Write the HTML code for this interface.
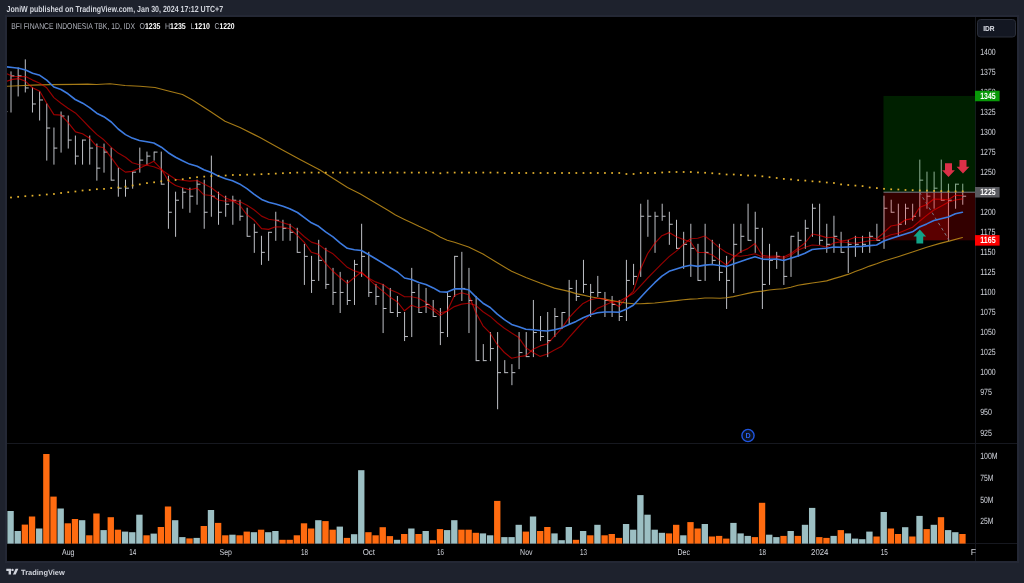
<!DOCTYPE html>
<html lang="en"><head><meta charset="utf-8"><title>BFI FINANCE INDONESIA TBK - TradingView</title>
<style>
html,body{margin:0;padding:0;background:#1e222d;}
body{width:1024px;height:583px;overflow:hidden;position:relative;font-family:"Liberation Sans",sans-serif;}
svg{position:absolute;left:0;top:0;display:block;will-change:transform}
text{font-family:"Liberation Sans",sans-serif;text-rendering:geometricPrecision}
.ax{fill:#d1d4dc}
.tm{font-size:8.6px;fill:#d1d4dc;text-anchor:middle}
</style></head><body>
<svg width="1024" height="583" viewBox="0 0 1024 583">
<rect x="0" y="0" width="1024" height="583" fill="#1e222d"/>
<rect x="6" y="16" width="1012" height="546" fill="#000" stroke="#242835" stroke-width="2"/>
<clipPath id="cp"><rect x="7" y="17" width="968.5" height="426.5"/></clipPath>
<clipPath id="cv"><rect x="7" y="443.5" width="968.5" height="100.29999999999995"/></clipPath>
<g stroke="#16181f" stroke-width="1" fill="none"><path d="M975.5 17V561M7 443.5H1017M7 543.5H1017"/></g>
<g clip-path="url(#cp)">
<path d="M6.4 111.6h1M11 71.4V112.5M11 75.91h3.4M18.16 67.39V96.46M18.16 75.91h3.4M25.31 59.37V92.45M25.31 87.94h3.4M32.47 87.44V112.5M32.47 103.98h3.4M39.62 91.45V120.52M39.62 99.97h3.4M46.78 103.48V160.62M46.78 128.04h3.4M53.94 127.54V164.63M53.94 148.09h3.4M61.09 111.5V152.6M61.09 116.01h3.4M68.25 115.51V148.59M68.25 140.07h3.4M75.4 135.56V164.63M75.4 156.11h3.4M82.56 139.57V164.63M82.56 140.07h3.4M89.72 135.56V164.63M89.72 148.09h3.4M96.87 143.58V180.67M96.87 168.14h3.4M104.03 143.58V172.65M104.03 152.1h3.4M111.18 147.59V180.67M111.18 180.17h3.4M118.34 167.64V196.71M118.34 188.19h3.4M125.5 179.67V196.71M125.5 188.19h3.4M132.65 171.65V188.69M132.65 172.15h3.4M139.81 147.59V172.65M139.81 160.12h3.4M146.96 151.6V164.63M146.96 156.11h3.4M154.12 151.6V160.62M154.12 152.1h3.4M161.28 151.6V184.68M161.28 184.18h3.4M168.43 175.66V228.79M168.43 212.25h3.4M175.59 191.7V236.81M175.59 200.22h3.4M182.74 187.69V208.74M182.74 192.2h3.4M189.9 187.69V212.75M189.9 196.21h3.4M197.06 179.67V204.73M197.06 184.18h3.4M204.21 179.67V228.79M204.21 212.25h3.4M211.37 155.61V216.76M211.37 196.21h3.4M218.52 191.7V224.78M218.52 212.25h3.4M225.68 195.71V216.76M225.68 204.23h3.4M232.84 195.71V224.78M232.84 200.22h3.4M239.99 199.72V220.77M239.99 216.26h3.4M247.15 207.74V236.81M247.15 236.31h3.4M254.3 223.78V252.85M254.3 232.3h3.4M261.46 235.81V264.88M261.46 252.35h3.4M268.62 231.8V260.87M268.62 232.3h3.4M275.77 211.75V240.82M275.77 220.27h3.4M282.93 219.77V240.82M282.93 228.29h3.4M290.08 223.78V240.82M290.08 232.3h3.4M297.24 227.79V252.85M297.24 252.35h3.4M304.4 243.83V284.93M304.4 256.36h3.4M311.55 255.86V292.95M311.55 280.42h3.4M318.71 239.82V280.92M318.71 260.37h3.4M325.86 247.84V288.94M325.86 284.43h3.4M333.02 267.89V304.98M333.02 292.45h3.4M340.18 271.9V313M340.18 292.45h3.4M347.33 279.92V304.98M347.33 300.47h3.4M354.49 259.87V304.98M354.49 264.38h3.4M361.64 223.78V276.91M361.64 256.36h3.4M368.8 251.85V296.96M368.8 292.45h3.4M375.96 283.93V304.98M375.96 296.46h3.4M383.11 283.93V333.05M383.11 308.49h3.4M390.27 287.94V313M390.27 312.5h3.4M397.42 295.96V317.01M397.42 312.5h3.4M404.58 312V341.07M404.58 336.56h3.4M411.74 267.89V337.06M411.74 292.45h3.4M418.89 283.93V313M418.89 312.5h3.4M426.05 287.94V313M426.05 304.48h3.4M433.2 299.97V317.01M433.2 316.51h3.4M440.36 307.99V345.08M440.36 332.55h3.4M447.52 291.95V337.06M447.52 296.46h3.4M454.67 255.86V296.96M454.67 256.36h3.4M461.83 251.85V300.97M461.83 288.44h3.4M468.98 267.89V333.05M468.98 300.47h3.4M476.14 295.96V361.12M476.14 360.62h3.4M483.3 344.08V361.12M483.3 360.62h3.4M490.45 332.05V361.12M490.45 348.59h3.4M497.61 332.05V409.24M497.61 372.65h3.4M504.76 360.12V373.15M504.76 372.65h3.4M511.92 364.13V385.18M511.92 372.65h3.4M519.08 332.05V369.14M519.08 352.6h3.4M526.23 332.05V357.11M526.23 356.61h3.4M533.39 299.97V357.11M533.39 332.55h3.4M540.54 316.01V341.07M540.54 336.56h3.4M547.7 312V357.11M547.7 340.57h3.4M554.86 307.99V337.06M554.86 316.51h3.4M562.01 312V329.04M562.01 312.5h3.4M569.17 279.92V325.03M569.17 288.44h3.4M576.32 279.92V300.97M576.32 296.46h3.4M583.48 259.87V292.95M583.48 284.43h3.4M590.64 283.93V317.01M590.64 292.45h3.4M597.79 275.91V296.96M597.79 292.45h3.4M604.95 291.95V317.01M604.95 300.47h3.4M612.1 295.96V317.01M612.1 304.48h3.4M619.26 299.97V321.02M619.26 316.51h3.4M626.42 259.87V321.02M626.42 280.42h3.4M633.57 263.88V284.93M633.57 276.41h3.4M640.73 203.73V276.91M640.73 216.26h3.4M647.88 199.72V236.81M647.88 216.26h3.4M655.04 211.75V252.85M655.04 216.26h3.4M662.2 203.73V220.77M662.2 216.26h3.4M669.35 211.75V244.83M669.35 224.28h3.4M676.51 219.77V248.84M676.51 248.34h3.4M683.66 231.8V268.89M683.66 244.33h3.4M690.82 223.78V276.91M690.82 248.34h3.4M697.98 243.83V280.92M697.98 280.42h3.4M705.13 223.78V280.92M705.13 252.35h3.4M712.29 239.82V264.88M712.29 260.37h3.4M719.44 243.83V280.92M719.44 272.4h3.4M726.6 255.86V308.99M726.6 280.42h3.4M733.76 223.78V292.95M733.76 244.33h3.4M740.91 223.78V252.85M740.91 236.31h3.4M748.07 203.73V240.82M748.07 240.32h3.4M755.22 211.75V252.85M755.22 228.29h3.4M762.38 227.79V308.99M762.38 284.43h3.4M769.54 243.83V284.93M769.54 260.37h3.4M776.69 251.85V268.89M776.69 256.36h3.4M783.85 255.86V284.93M783.85 276.41h3.4M791 235.81V276.91M791 236.31h3.4M798.16 231.8V256.86M798.16 240.32h3.4M805.32 219.77V248.84M805.32 228.29h3.4M812.47 203.73V236.81M812.47 208.24h3.4M819.63 203.73V244.83M819.63 240.32h3.4M826.78 223.78V252.85M826.78 244.33h3.4M833.94 215.76V252.85M833.94 236.31h3.4M841.1 231.8V252.85M841.1 252.35h3.4M848.25 239.82V272.9M848.25 244.33h3.4M855.41 235.81V256.86M855.41 244.33h3.4M862.56 235.81V252.85M862.56 244.33h3.4M869.72 231.8V252.85M869.72 236.31h3.4M876.88 223.78V240.82M876.88 240.32h3.4M884.03 195.71V248.84M884.03 208.24h3.4M891.19 199.72V212.75M891.19 212.25h3.4M898.34 203.73V236.81M898.34 224.28h3.4M905.5 203.73V224.78M905.5 208.24h3.4M912.66 203.73V220.77M912.66 216.26h3.4M919.81 159.62V216.76M919.81 180.17h3.4M926.97 171.65V208.74M926.97 196.21h3.4M934.12 171.65V208.74M934.12 188.19h3.4M941.28 159.62V200.72M941.28 200.22h3.4M948.44 183.68V240.82M948.44 200.22h3.4M955.59 183.68V208.74M955.59 184.18h3.4M962.75 183.68V204.73M962.75 196.21h3.4" stroke="#bec0c6" stroke-width="1" fill="none"/>
<rect x="883.5" y="95.96" width="92" height="96.24" fill="#008000" fill-opacity="0.25"/>
<rect x="883.5" y="192.2" width="92" height="48.12" fill="#ff0000" fill-opacity="0.2"/>
<rect x="919.5" y="192.2" width="29.7" height="48.12" fill="#ff0000" fill-opacity="0.2"/>
<path d="M883.5 192.2H975.5" stroke="#787b86" stroke-width="1"/>
<path d="M919.5 192.2L949.2 240.32" stroke="#787b86" stroke-width="1" stroke-dasharray="3 3" fill="none"/>
<polyline points="6.9,86.3 18.8,85.7 32.6,85.1 50,84.6 75,84.4 87.7,84.1 96.5,84.5 110,83.8 125,85.5 140,86.25 155,87.5 167.5,90.75 182.5,94.5 192.5,100 210,111.25 225,121.25 240,127.5 260,137.5 282.5,150 300,159.5 320,170 347.5,187.5 360,193.75 387.5,210 395.5,215 404.5,219.4 411.6,222.8 418.9,226.3 425.9,229.4 433.3,233 440,236.9 447.2,240.2 454.5,242.3 468.6,247 483,254.1 497.3,262.7 511.6,271.3 525.9,277.5 540.2,283 554.5,288.1 568.9,291.4 576.1,293.6 583.1,295.1 590.3,296.7 597.5,298 604.7,299.1 611.9,300.6 618.9,301.9 626.1,303 633.3,303.8 640.5,303.8 647.7,303.4 654.7,303 661.9,302.2 669.1,301.4 676.3,300.6 683.4,299.8 690.5,299.1 697.7,298.8 704.8,298 712,298 720,298.2 726.3,297.8 733.4,296.6 740.6,295 747.8,293.4 755,291.9 762.2,291.1 769.2,290 776.4,289.2 783.6,288.8 790.8,287.2 798,285.3 805,284.1 812.2,283 819.4,282 826.6,280.9 833.8,278.6 840.8,276.6 848,274.4 855.2,271.6 862.3,268.9 869.5,266.1 876.6,263.8 883.9,261 898.1,256.7 912.5,252 926.7,247.3 940,243.4 950,240.9 962.4,237.5" fill="none" stroke="#c28f1a" stroke-width="1.12" stroke-linejoin="round" stroke-linecap="round" opacity="0.85"/>
<polyline points="6.9,73.8 12.5,76.3 18.8,76.6 25.6,76.6 32.6,80.1 39.8,83.2 46.7,87.8 53.9,97.6 61,103.2 68,108.3 75.4,112.9 82.6,120.1 89.6,127.5 96.7,134.4 103.8,139.8 111.3,147.4 118.2,153.1 125.5,157.2 132.3,162.8 139.4,164.7 146.9,165.2 153.8,166.7 161.4,169.8 168.3,174.5 175.6,179.2 182.5,180.3 189.5,181.1 197.2,180.5 203.9,183.9 211.4,187.8 218.4,193.3 225.5,198 232.6,200.6 239.6,201.5 247,205.3 254,209.7 261.6,216.1 268.6,219.2 275.6,220.3 283,222.8 289.7,224.9 297.4,230.4 304.4,236.7 311.4,242.1 318.6,244.4 325.6,249.7 333,253.8 340,260.3 347.3,267.3 354.4,270.9 361.4,273.1 368.9,278.3 375.6,281.9 383.3,284.7 390.3,289.7 397.5,292.8 404.5,296.8 411.5,296.7 418.7,298.3 425.7,302.3 432.8,307.7 440,312.8 447.2,311.3 454.4,306.6 461.6,304.1 468.7,303.3 475.8,305.4 483,311.7 490.2,316.4 497.3,322.8 504.4,328.3 511.6,332.9 518.8,337.6 525.9,347.8 533.1,352.5 540.2,356.4 547.3,354 554.5,350.1 561.7,346.2 568.9,337.6 576.6,329 583.1,321.9 590.3,314.7 597.5,308.4 604.7,305.3 611.9,301.9 618.9,301.4 626.1,297.5 633.3,293.6 640.5,285.8 647.7,278 654.7,270.8 661.9,263.6 669.1,256.6 676.3,251.1 683.4,244.5 690.5,238.8 697.7,238.2 704.8,236 712,241.4 719.2,247.6 726.3,252.5 733.4,255.6 740.6,256.3 747.8,255.2 755,253.7 762.2,256.9 769.2,257.4 776.4,257.7 783.6,258.3 790.8,255.2 798,250.1 805,247.3 812.2,245 819.4,245.5 826.6,247.1 833.8,242.9 840.8,241.9 848,242.5 855.2,243.2 862.3,242.1 869.5,240.7 876.6,240.1 883.8,237.7 891,234.8 898.1,233.3 905.3,230.3 912.5,227.2 919.5,221.3 926.7,215.4 933.9,210 941,206.25 948.2,202.3 955.4,200 962.4,198.9" fill="none" stroke="#ff0000" stroke-width="1.15" stroke-linejoin="round" stroke-linecap="round" opacity="0.58"/>
<polyline points="6.9,81.1 12.5,79.4 18.8,78.6 25.6,81.3 32.6,87.8 39.8,91.3 46.7,103.2 53.9,114.6 61,115.1 68,122.3 75.6,131.9 82.5,133.8 89.6,138.2 96.7,146.3 103.7,147.8 111.3,157.7 118.2,167.1 125.4,172.1 132.3,171.4 139.4,168.3 146.9,164.7 153.8,161.3 161.4,169.1 168.3,180.8 175.6,185.5 182.5,187.8 189.5,189.7 197.2,188.1 203.9,194.8 211.4,195.5 218.4,200 225.4,201.2 232.6,200.7 239.6,205 247,214.8 254,220 261.6,228.6 268.6,229.4 275.6,226.7 283,227 289.7,228.8 297.4,235.4 304.4,242.5 311.4,252.3 318.6,254.4 325.6,263.4 333,271.3 340,277.5 347.3,283.4 354.4,277.5 361.4,272 368.9,279.1 375.6,285.3 383,291.4 390.2,297.2 397.5,302 404.5,310.8 411.4,305.3 418.6,307.7 425.6,306.1 432.8,310 440,315.6 447.2,311 454.4,295.5 461.6,292.8 468.7,294.7 475.8,312.5 483,325.8 490.2,333.2 497.3,344.7 504.4,352.5 511.6,358.3 518.8,356.7 525.9,355.6 533.1,349.3 540.2,345.9 547.3,343.9 554.5,336.1 561.7,328.3 568.9,317.8 576.1,310.1 583.1,303.4 590.3,299.8 597.5,298.3 604.7,299.1 611.9,302.2 618.9,306.6 626.1,298.3 633.3,291.3 640.5,269.2 647.7,253.5 654.7,243.4 661.9,235.7 669.1,232.6 676.3,236.8 683.4,239.5 690.5,241.8 697.7,252.5 704.8,252.5 712,254.7 719.2,259.9 726.3,265 733.4,257.5 740.6,251.8 747.8,248.6 755,243.5 762.2,255.2 769.2,256.2 776.4,256 783.6,257 790.8,253.6 798,248.2 805,243 812.2,234 819.4,235.4 826.6,237.6 833.8,237.2 840.8,241.1 848,240 855.2,237.2 862.3,237.7 869.5,237.2 876.6,238.8 883.8,232.7 891,226 898.1,224.8 905.3,219.9 912.5,218.6 919.5,207.5 926.7,204.5 933.9,199 941,199.2 948.2,199.7 955.4,195.3 962.4,195.6" fill="none" stroke="#ff0000" stroke-width="1.15" stroke-linejoin="round" stroke-linecap="round" opacity="0.62"/>
<polyline points="6.9,66.9 12.5,67.5 18.8,68.2 25.6,70 32.6,73.2 39.8,75.3 46.7,80.1 53.9,87 61,89.5 68,93.8 75.2,99.5 82.7,103.2 89.6,107.6 96.7,113.2 103.8,116.7 111.3,122 118.2,129 125.5,134.6 132.3,138.1 139.4,140.5 146.9,141.7 153.8,143 161.4,147.2 168.3,152.7 175.6,157.3 182.5,160.8 189.5,164.1 197.2,166.3 203.9,169.8 211.4,172.5 218.4,176.1 225.5,178.8 232.5,180.8 239.5,183.9 246.9,188.6 253.9,194.1 261.6,199.4 268.6,202.3 275.6,204.1 283,206.3 289.7,208.8 297.5,212.5 304.4,217.6 311.4,222.8 318.6,226.3 325.6,231.9 333,236.9 340,242.8 347.3,248.3 354.4,249.7 361.4,250.5 368.9,254.8 375.6,258.8 383.3,263.4 390.3,267.8 397.5,272 404.5,278 411.6,279.5 418.9,282.5 425.9,284.5 433.3,287.9 440,291.8 447.2,292.1 454.4,288.9 461.6,288.7 468.7,289.7 475.8,296.9 483,303.2 490.2,307.5 497.3,314.2 504.4,319.7 511.6,324.4 518.8,326.8 525.9,329.3 533.1,329.8 540.2,330.5 547.3,331 554.5,329.8 561.7,327.9 568.9,324.5 576.1,321.4 583.1,317.7 590.3,314.7 597.5,312.8 604.7,312 611.9,312 618.9,312.3 626.1,309.2 633.3,305.3 640.5,297.5 647.7,289.7 654.7,282.7 661.9,276.2 669.1,271.3 676.3,269 683.4,266.8 690.5,265.2 697.7,266.4 704.8,265.1 712,264.5 719.2,265.5 726.3,266.6 733.4,264 740.6,261.4 747.8,259.1 755,256.8 762.2,259.1 769.2,259.4 776.4,259 783.6,260.5 790.8,258.3 798,256 805,253.3 812.2,249.5 819.4,248.7 826.6,248.2 833.8,247 840.8,247.3 848,247 855.2,246.6 862.3,246.4 869.5,245.6 876.6,245 883.8,241 891,238.5 898.1,236.2 905.3,234 912.5,231.8 919.5,227 926.7,223.9 933.9,220.5 941,218.75 948.2,216.9 955.4,213.75 962.4,212.2" fill="none" stroke="#3d7be0" stroke-width="1.6" stroke-linejoin="round" stroke-linecap="round" opacity="1"/>
<rect x="10.12" y="196.62" width="1.75" height="1.75" fill="#e2b02d"/>
<rect x="17.28" y="195.93" width="1.75" height="1.75" fill="#e2b02d"/>
<rect x="24.44" y="195.32" width="1.75" height="1.75" fill="#e2b02d"/>
<rect x="31.59" y="194.82" width="1.75" height="1.75" fill="#e2b02d"/>
<rect x="38.75" y="194.32" width="1.75" height="1.75" fill="#e2b02d"/>
<rect x="45.91" y="193.62" width="1.75" height="1.75" fill="#e2b02d"/>
<rect x="53.06" y="193.12" width="1.75" height="1.75" fill="#e2b02d"/>
<rect x="60.22" y="192.12" width="1.75" height="1.75" fill="#e2b02d"/>
<rect x="67.37" y="191.32" width="1.75" height="1.75" fill="#e2b02d"/>
<rect x="74.53" y="190.62" width="1.75" height="1.75" fill="#e2b02d"/>
<rect x="81.69" y="189.62" width="1.75" height="1.75" fill="#e2b02d"/>
<rect x="88.84" y="189.12" width="1.75" height="1.75" fill="#e2b02d"/>
<rect x="96" y="188.32" width="1.75" height="1.75" fill="#e2b02d"/>
<rect x="103.15" y="188.03" width="1.75" height="1.75" fill="#e2b02d"/>
<rect x="110.31" y="187.22" width="1.75" height="1.75" fill="#e2b02d"/>
<rect x="117.46" y="186.62" width="1.75" height="1.75" fill="#e2b02d"/>
<rect x="124.62" y="185.82" width="1.75" height="1.75" fill="#e2b02d"/>
<rect x="131.78" y="184.62" width="1.75" height="1.75" fill="#e2b02d"/>
<rect x="138.93" y="183.53" width="1.75" height="1.75" fill="#e2b02d"/>
<rect x="146.09" y="182.22" width="1.75" height="1.75" fill="#e2b02d"/>
<rect x="153.25" y="181.43" width="1.75" height="1.75" fill="#e2b02d"/>
<rect x="160.4" y="180.43" width="1.75" height="1.75" fill="#e2b02d"/>
<rect x="167.56" y="179.43" width="1.75" height="1.75" fill="#e2b02d"/>
<rect x="174.71" y="179.12" width="1.75" height="1.75" fill="#e2b02d"/>
<rect x="181.87" y="178.32" width="1.75" height="1.75" fill="#e2b02d"/>
<rect x="189.03" y="177.12" width="1.75" height="1.75" fill="#e2b02d"/>
<rect x="196.18" y="176.32" width="1.75" height="1.75" fill="#e2b02d"/>
<rect x="203.34" y="175.72" width="1.75" height="1.75" fill="#e2b02d"/>
<rect x="210.49" y="175.22" width="1.75" height="1.75" fill="#e2b02d"/>
<rect x="217.65" y="174.93" width="1.75" height="1.75" fill="#e2b02d"/>
<rect x="224.8" y="174.62" width="1.75" height="1.75" fill="#e2b02d"/>
<rect x="231.96" y="174.12" width="1.75" height="1.75" fill="#e2b02d"/>
<rect x="239.12" y="174.12" width="1.75" height="1.75" fill="#e2b02d"/>
<rect x="246.27" y="173.82" width="1.75" height="1.75" fill="#e2b02d"/>
<rect x="253.43" y="173.62" width="1.75" height="1.75" fill="#e2b02d"/>
<rect x="260.58" y="173.32" width="1.75" height="1.75" fill="#e2b02d"/>
<rect x="267.74" y="173.03" width="1.75" height="1.75" fill="#e2b02d"/>
<rect x="274.9" y="172.72" width="1.75" height="1.75" fill="#e2b02d"/>
<rect x="282.05" y="172.32" width="1.75" height="1.75" fill="#e2b02d"/>
<rect x="289.21" y="172.03" width="1.75" height="1.75" fill="#e2b02d"/>
<rect x="296.37" y="171.72" width="1.75" height="1.75" fill="#e2b02d"/>
<rect x="303.52" y="171.72" width="1.75" height="1.75" fill="#e2b02d"/>
<rect x="310.68" y="171.72" width="1.75" height="1.75" fill="#e2b02d"/>
<rect x="317.83" y="171.72" width="1.75" height="1.75" fill="#e2b02d"/>
<rect x="324.99" y="171.72" width="1.75" height="1.75" fill="#e2b02d"/>
<rect x="332.14" y="171.72" width="1.75" height="1.75" fill="#e2b02d"/>
<rect x="339.3" y="171.72" width="1.75" height="1.75" fill="#e2b02d"/>
<rect x="346.46" y="171.72" width="1.75" height="1.75" fill="#e2b02d"/>
<rect x="353.61" y="171.72" width="1.75" height="1.75" fill="#e2b02d"/>
<rect x="360.77" y="171.72" width="1.75" height="1.75" fill="#e2b02d"/>
<rect x="367.93" y="171.72" width="1.75" height="1.75" fill="#e2b02d"/>
<rect x="375.08" y="171.72" width="1.75" height="1.75" fill="#e2b02d"/>
<rect x="382.24" y="171.72" width="1.75" height="1.75" fill="#e2b02d"/>
<rect x="389.39" y="171.72" width="1.75" height="1.75" fill="#e2b02d"/>
<rect x="396.55" y="171.72" width="1.75" height="1.75" fill="#e2b02d"/>
<rect x="403.7" y="171.72" width="1.75" height="1.75" fill="#e2b02d"/>
<rect x="410.86" y="171.72" width="1.75" height="1.75" fill="#e2b02d"/>
<rect x="418.02" y="171.72" width="1.75" height="1.75" fill="#e2b02d"/>
<rect x="425.17" y="171.72" width="1.75" height="1.75" fill="#e2b02d"/>
<rect x="432.33" y="171.72" width="1.75" height="1.75" fill="#e2b02d"/>
<rect x="439.48" y="172.43" width="1.75" height="1.75" fill="#e2b02d"/>
<rect x="446.64" y="171.72" width="1.75" height="1.75" fill="#e2b02d"/>
<rect x="453.8" y="171.72" width="1.75" height="1.75" fill="#e2b02d"/>
<rect x="460.95" y="171.72" width="1.75" height="1.75" fill="#e2b02d"/>
<rect x="468.11" y="171.72" width="1.75" height="1.75" fill="#e2b02d"/>
<rect x="475.26" y="171.72" width="1.75" height="1.75" fill="#e2b02d"/>
<rect x="482.42" y="171.72" width="1.75" height="1.75" fill="#e2b02d"/>
<rect x="489.58" y="171.72" width="1.75" height="1.75" fill="#e2b02d"/>
<rect x="496.73" y="171.72" width="1.75" height="1.75" fill="#e2b02d"/>
<rect x="503.89" y="172.12" width="1.75" height="1.75" fill="#e2b02d"/>
<rect x="511.04" y="172.12" width="1.75" height="1.75" fill="#e2b02d"/>
<rect x="518.2" y="172.12" width="1.75" height="1.75" fill="#e2b02d"/>
<rect x="525.36" y="172.12" width="1.75" height="1.75" fill="#e2b02d"/>
<rect x="532.51" y="172.12" width="1.75" height="1.75" fill="#e2b02d"/>
<rect x="539.67" y="172.12" width="1.75" height="1.75" fill="#e2b02d"/>
<rect x="546.82" y="172.12" width="1.75" height="1.75" fill="#e2b02d"/>
<rect x="553.98" y="172.12" width="1.75" height="1.75" fill="#e2b02d"/>
<rect x="561.14" y="172.12" width="1.75" height="1.75" fill="#e2b02d"/>
<rect x="568.29" y="172.12" width="1.75" height="1.75" fill="#e2b02d"/>
<rect x="575.45" y="172.12" width="1.75" height="1.75" fill="#e2b02d"/>
<rect x="582.61" y="172.12" width="1.75" height="1.75" fill="#e2b02d"/>
<rect x="589.76" y="172.12" width="1.75" height="1.75" fill="#e2b02d"/>
<rect x="596.92" y="172.12" width="1.75" height="1.75" fill="#e2b02d"/>
<rect x="604.07" y="172.12" width="1.75" height="1.75" fill="#e2b02d"/>
<rect x="611.23" y="172.12" width="1.75" height="1.75" fill="#e2b02d"/>
<rect x="618.38" y="172.12" width="1.75" height="1.75" fill="#e2b02d"/>
<rect x="625.54" y="173.12" width="1.75" height="1.75" fill="#e2b02d"/>
<rect x="632.7" y="173.12" width="1.75" height="1.75" fill="#e2b02d"/>
<rect x="639.85" y="172.12" width="1.75" height="1.75" fill="#e2b02d"/>
<rect x="647.01" y="172.12" width="1.75" height="1.75" fill="#e2b02d"/>
<rect x="654.16" y="172.12" width="1.75" height="1.75" fill="#e2b02d"/>
<rect x="661.32" y="171.62" width="1.75" height="1.75" fill="#e2b02d"/>
<rect x="668.48" y="171.12" width="1.75" height="1.75" fill="#e2b02d"/>
<rect x="675.63" y="171.12" width="1.75" height="1.75" fill="#e2b02d"/>
<rect x="682.79" y="171.12" width="1.75" height="1.75" fill="#e2b02d"/>
<rect x="689.94" y="171.12" width="1.75" height="1.75" fill="#e2b02d"/>
<rect x="697.1" y="171.62" width="1.75" height="1.75" fill="#e2b02d"/>
<rect x="704.26" y="171.88" width="1.75" height="1.75" fill="#e2b02d"/>
<rect x="711.41" y="172.38" width="1.75" height="1.75" fill="#e2b02d"/>
<rect x="718.57" y="172.88" width="1.75" height="1.75" fill="#e2b02d"/>
<rect x="725.73" y="173.62" width="1.75" height="1.75" fill="#e2b02d"/>
<rect x="732.88" y="173.62" width="1.75" height="1.75" fill="#e2b02d"/>
<rect x="740.04" y="174.12" width="1.75" height="1.75" fill="#e2b02d"/>
<rect x="747.19" y="174.62" width="1.75" height="1.75" fill="#e2b02d"/>
<rect x="754.35" y="174.72" width="1.75" height="1.75" fill="#e2b02d"/>
<rect x="761.5" y="175.43" width="1.75" height="1.75" fill="#e2b02d"/>
<rect x="768.66" y="176.32" width="1.75" height="1.75" fill="#e2b02d"/>
<rect x="775.82" y="177.12" width="1.75" height="1.75" fill="#e2b02d"/>
<rect x="782.97" y="178.03" width="1.75" height="1.75" fill="#e2b02d"/>
<rect x="790.13" y="178.53" width="1.75" height="1.75" fill="#e2b02d"/>
<rect x="797.28" y="179.32" width="1.75" height="1.75" fill="#e2b02d"/>
<rect x="804.44" y="179.72" width="1.75" height="1.75" fill="#e2b02d"/>
<rect x="811.6" y="180.43" width="1.75" height="1.75" fill="#e2b02d"/>
<rect x="818.75" y="180.82" width="1.75" height="1.75" fill="#e2b02d"/>
<rect x="825.91" y="181.62" width="1.75" height="1.75" fill="#e2b02d"/>
<rect x="833.06" y="182.12" width="1.75" height="1.75" fill="#e2b02d"/>
<rect x="840.22" y="183.53" width="1.75" height="1.75" fill="#e2b02d"/>
<rect x="847.38" y="184.12" width="1.75" height="1.75" fill="#e2b02d"/>
<rect x="854.53" y="184.72" width="1.75" height="1.75" fill="#e2b02d"/>
<rect x="861.69" y="185.22" width="1.75" height="1.75" fill="#e2b02d"/>
<rect x="868.84" y="186.62" width="1.75" height="1.75" fill="#e2b02d"/>
<rect x="876" y="187.22" width="1.75" height="1.75" fill="#e2b02d"/>
<rect x="883.16" y="187.93" width="1.75" height="1.75" fill="#e2b02d"/>
<rect x="890.31" y="188.43" width="1.75" height="1.75" fill="#e2b02d"/>
<rect x="897.47" y="188.62" width="1.75" height="1.75" fill="#e2b02d"/>
<rect x="904.62" y="189.12" width="1.75" height="1.75" fill="#e2b02d"/>
<rect x="911.78" y="189.32" width="1.75" height="1.75" fill="#e2b02d"/>
<rect x="918.94" y="189.62" width="1.75" height="1.75" fill="#e2b02d"/>
<rect x="926.09" y="189.72" width="1.75" height="1.75" fill="#e2b02d"/>
<rect x="933.25" y="190.03" width="1.75" height="1.75" fill="#e2b02d"/>
<rect x="940.4" y="190.22" width="1.75" height="1.75" fill="#e2b02d"/>
<rect x="947.56" y="190.53" width="1.75" height="1.75" fill="#e2b02d"/>
<rect x="954.72" y="190.53" width="1.75" height="1.75" fill="#e2b02d"/>
<rect x="961.87" y="190.53" width="1.75" height="1.75" fill="#e2b02d"/>
<path d="M945 163.3h7v6.9h2.9L948.5 177L942.1 170.2h2.9z" fill="#dc3048"/>
<path d="M959.5 159.9h7v6.9h2.9L963 173.6L956.6 166.8h2.9z" fill="#dc3048"/>
<path d="M919.8 229.4l6.3 7h-2.9v7h-6.8v-7h-2.9z" fill="#12a388"/>
</g>
<circle cx="748" cy="435.5" r="6.1" fill="#0c1220" stroke="#1f55e0" stroke-width="1.4"/>
<text x="748" y="438.1" font-size="7.2" font-weight="700" fill="#2a62f0" text-anchor="middle">D</text>
<g clip-path="url(#cv)">
<rect x="7.4" y="511" width="6.35" height="32.8" fill="#9cbfc3"/>
<rect x="14.56" y="531" width="6.35" height="12.8" fill="#9cbfc3"/>
<rect x="21.71" y="524.6" width="6.35" height="19.2" fill="#ff6b10"/>
<rect x="28.87" y="516.5" width="6.35" height="27.3" fill="#ff6b10"/>
<rect x="36.03" y="528.5" width="6.35" height="15.3" fill="#9cbfc3"/>
<rect x="43.18" y="454" width="6.35" height="89.8" fill="#ff6b10"/>
<rect x="50.34" y="496.6" width="6.35" height="47.2" fill="#ff6b10"/>
<rect x="57.5" y="508.5" width="6.35" height="35.3" fill="#9cbfc3"/>
<rect x="64.66" y="523.3" width="6.35" height="20.5" fill="#ff6b10"/>
<rect x="71.81" y="519" width="6.35" height="24.8" fill="#ff6b10"/>
<rect x="78.97" y="520.2" width="6.35" height="23.6" fill="#9cbfc3"/>
<rect x="86.13" y="535.3" width="6.35" height="8.5" fill="#ff6b10"/>
<rect x="93.28" y="513.5" width="6.35" height="30.3" fill="#ff6b10"/>
<rect x="100.44" y="530.1" width="6.35" height="13.7" fill="#9cbfc3"/>
<rect x="107.6" y="517.2" width="6.35" height="26.6" fill="#ff6b10"/>
<rect x="114.75" y="529.7" width="6.35" height="14.1" fill="#ff6b10"/>
<rect x="121.91" y="531.6" width="6.35" height="12.2" fill="#9cbfc3"/>
<rect x="129.07" y="532.2" width="6.35" height="11.6" fill="#9cbfc3"/>
<rect x="136.23" y="514.7" width="6.35" height="29.1" fill="#9cbfc3"/>
<rect x="143.38" y="535.3" width="6.35" height="8.5" fill="#ff6b10"/>
<rect x="150.54" y="533.6" width="6.35" height="10.2" fill="#9cbfc3"/>
<rect x="157.7" y="527" width="6.35" height="16.8" fill="#ff6b10"/>
<rect x="164.85" y="506.5" width="6.35" height="37.3" fill="#ff6b10"/>
<rect x="172.01" y="520.2" width="6.35" height="23.6" fill="#9cbfc3"/>
<rect x="179.17" y="537.1" width="6.35" height="6.7" fill="#9cbfc3"/>
<rect x="186.33" y="538.4" width="6.35" height="5.4" fill="#ff6b10"/>
<rect x="193.48" y="537.9" width="6.35" height="5.9" fill="#9cbfc3"/>
<rect x="200.64" y="526" width="6.35" height="17.8" fill="#ff6b10"/>
<rect x="207.8" y="510" width="6.35" height="33.8" fill="#9cbfc3"/>
<rect x="214.95" y="522.9" width="6.35" height="20.9" fill="#ff6b10"/>
<rect x="222.11" y="535.3" width="6.35" height="8.5" fill="#ff6b10"/>
<rect x="229.27" y="534.7" width="6.35" height="9.1" fill="#9cbfc3"/>
<rect x="236.42" y="535.3" width="6.35" height="8.5" fill="#ff6b10"/>
<rect x="243.58" y="531.6" width="6.35" height="12.2" fill="#ff6b10"/>
<rect x="250.74" y="532.2" width="6.35" height="11.6" fill="#9cbfc3"/>
<rect x="257.9" y="529.7" width="6.35" height="14.1" fill="#ff6b10"/>
<rect x="265.05" y="532.2" width="6.35" height="11.6" fill="#9cbfc3"/>
<rect x="272.21" y="531" width="6.35" height="12.8" fill="#9cbfc3"/>
<rect x="279.37" y="539.8" width="6.35" height="4" fill="#ff6b10"/>
<rect x="286.52" y="539.8" width="6.35" height="4" fill="#ff6b10"/>
<rect x="293.68" y="535.3" width="6.35" height="8.5" fill="#ff6b10"/>
<rect x="300.84" y="523.3" width="6.35" height="20.5" fill="#ff6b10"/>
<rect x="307.99" y="528.5" width="6.35" height="15.3" fill="#ff6b10"/>
<rect x="315.15" y="520.2" width="6.35" height="23.6" fill="#9cbfc3"/>
<rect x="322.31" y="521.1" width="6.35" height="22.7" fill="#ff6b10"/>
<rect x="329.47" y="529.7" width="6.35" height="14.1" fill="#ff6b10"/>
<rect x="336.62" y="526.6" width="6.35" height="17.2" fill="#9cbfc3"/>
<rect x="343.78" y="537.9" width="6.35" height="5.9" fill="#ff6b10"/>
<rect x="350.94" y="534.2" width="6.35" height="9.6" fill="#9cbfc3"/>
<rect x="358.09" y="470.2" width="6.35" height="73.6" fill="#9cbfc3"/>
<rect x="365.25" y="532.2" width="6.35" height="11.6" fill="#ff6b10"/>
<rect x="372.41" y="535.3" width="6.35" height="8.5" fill="#ff6b10"/>
<rect x="379.56" y="527.2" width="6.35" height="16.6" fill="#ff6b10"/>
<rect x="386.72" y="536.1" width="6.35" height="7.7" fill="#ff6b10"/>
<rect x="393.88" y="539.8" width="6.35" height="4" fill="#9cbfc3"/>
<rect x="401.04" y="534" width="6.35" height="9.8" fill="#ff6b10"/>
<rect x="408.19" y="528.5" width="6.35" height="15.3" fill="#9cbfc3"/>
<rect x="415.35" y="534" width="6.35" height="9.8" fill="#ff6b10"/>
<rect x="422.51" y="531" width="6.35" height="12.8" fill="#9cbfc3"/>
<rect x="429.66" y="540.2" width="6.35" height="3.6" fill="#ff6b10"/>
<rect x="436.82" y="529.1" width="6.35" height="14.7" fill="#ff6b10"/>
<rect x="443.98" y="530.1" width="6.35" height="13.7" fill="#9cbfc3"/>
<rect x="451.13" y="520.2" width="6.35" height="23.6" fill="#9cbfc3"/>
<rect x="458.29" y="529.7" width="6.35" height="14.1" fill="#ff6b10"/>
<rect x="465.45" y="529.7" width="6.35" height="14.1" fill="#ff6b10"/>
<rect x="472.61" y="532.8" width="6.35" height="11" fill="#ff6b10"/>
<rect x="479.76" y="533.4" width="6.35" height="10.4" fill="#9cbfc3"/>
<rect x="486.92" y="535.3" width="6.35" height="8.5" fill="#9cbfc3"/>
<rect x="494.08" y="500.9" width="6.35" height="42.9" fill="#ff6b10"/>
<rect x="501.23" y="537.1" width="6.35" height="6.7" fill="#9cbfc3"/>
<rect x="508.39" y="537.1" width="6.35" height="6.7" fill="#9cbfc3"/>
<rect x="515.55" y="524.8" width="6.35" height="19" fill="#9cbfc3"/>
<rect x="522.7" y="531.6" width="6.35" height="12.2" fill="#ff6b10"/>
<rect x="529.86" y="516.5" width="6.35" height="27.3" fill="#9cbfc3"/>
<rect x="537.02" y="531" width="6.35" height="12.8" fill="#ff6b10"/>
<rect x="544.17" y="527" width="6.35" height="16.8" fill="#ff6b10"/>
<rect x="551.33" y="533.4" width="6.35" height="10.4" fill="#9cbfc3"/>
<rect x="558.49" y="540.2" width="6.35" height="3.6" fill="#9cbfc3"/>
<rect x="565.65" y="527" width="6.35" height="16.8" fill="#9cbfc3"/>
<rect x="572.8" y="539.8" width="6.35" height="4" fill="#ff6b10"/>
<rect x="579.96" y="531" width="6.35" height="12.8" fill="#9cbfc3"/>
<rect x="587.12" y="535.3" width="6.35" height="8.5" fill="#ff6b10"/>
<rect x="594.27" y="524.8" width="6.35" height="19" fill="#9cbfc3"/>
<rect x="601.43" y="535.3" width="6.35" height="8.5" fill="#ff6b10"/>
<rect x="608.59" y="534" width="6.35" height="9.8" fill="#ff6b10"/>
<rect x="615.75" y="537.9" width="6.35" height="5.9" fill="#ff6b10"/>
<rect x="622.9" y="524" width="6.35" height="19.8" fill="#9cbfc3"/>
<rect x="630.06" y="529.7" width="6.35" height="14.1" fill="#9cbfc3"/>
<rect x="637.22" y="495.1" width="6.35" height="48.7" fill="#9cbfc3"/>
<rect x="644.37" y="514.7" width="6.35" height="29.1" fill="#9cbfc3"/>
<rect x="651.53" y="529.7" width="6.35" height="14.1" fill="#9cbfc3"/>
<rect x="658.69" y="532.8" width="6.35" height="11" fill="#9cbfc3"/>
<rect x="665.84" y="533.4" width="6.35" height="10.4" fill="#ff6b10"/>
<rect x="673" y="524.8" width="6.35" height="19" fill="#ff6b10"/>
<rect x="680.16" y="535.3" width="6.35" height="8.5" fill="#9cbfc3"/>
<rect x="687.31" y="522.1" width="6.35" height="21.7" fill="#ff6b10"/>
<rect x="694.47" y="528.5" width="6.35" height="15.3" fill="#ff6b10"/>
<rect x="701.63" y="524" width="6.35" height="19.8" fill="#9cbfc3"/>
<rect x="708.79" y="536.5" width="6.35" height="7.3" fill="#ff6b10"/>
<rect x="715.94" y="535.9" width="6.35" height="7.9" fill="#ff6b10"/>
<rect x="723.1" y="538.6" width="6.35" height="5.2" fill="#ff6b10"/>
<rect x="730.26" y="522.9" width="6.35" height="20.9" fill="#9cbfc3"/>
<rect x="737.41" y="533.4" width="6.35" height="10.4" fill="#9cbfc3"/>
<rect x="744.57" y="535.9" width="6.35" height="7.9" fill="#9cbfc3"/>
<rect x="751.73" y="537.1" width="6.35" height="6.7" fill="#ff6b10"/>
<rect x="758.88" y="502.8" width="6.35" height="41" fill="#ff6b10"/>
<rect x="766.04" y="534.7" width="6.35" height="9.1" fill="#9cbfc3"/>
<rect x="773.2" y="537.1" width="6.35" height="6.7" fill="#9cbfc3"/>
<rect x="780.36" y="535.9" width="6.35" height="7.9" fill="#ff6b10"/>
<rect x="787.51" y="531" width="6.35" height="12.8" fill="#9cbfc3"/>
<rect x="794.67" y="535.9" width="6.35" height="7.9" fill="#ff6b10"/>
<rect x="801.83" y="524.8" width="6.35" height="19" fill="#9cbfc3"/>
<rect x="808.98" y="507.9" width="6.35" height="35.9" fill="#9cbfc3"/>
<rect x="816.14" y="537.1" width="6.35" height="6.7" fill="#ff6b10"/>
<rect x="823.3" y="537.9" width="6.35" height="5.9" fill="#ff6b10"/>
<rect x="830.45" y="535.9" width="6.35" height="7.9" fill="#9cbfc3"/>
<rect x="837.61" y="530.1" width="6.35" height="13.7" fill="#ff6b10"/>
<rect x="844.77" y="533.4" width="6.35" height="10.4" fill="#9cbfc3"/>
<rect x="851.93" y="538.6" width="6.35" height="5.2" fill="#9cbfc3"/>
<rect x="859.08" y="539.2" width="6.35" height="4.6" fill="#9cbfc3"/>
<rect x="866.24" y="531.6" width="6.35" height="12.2" fill="#9cbfc3"/>
<rect x="873.4" y="536.5" width="6.35" height="7.3" fill="#ff6b10"/>
<rect x="880.55" y="512" width="6.35" height="31.8" fill="#9cbfc3"/>
<rect x="887.71" y="528.5" width="6.35" height="15.3" fill="#ff6b10"/>
<rect x="894.87" y="534" width="6.35" height="9.8" fill="#ff6b10"/>
<rect x="902.02" y="527.2" width="6.35" height="16.6" fill="#9cbfc3"/>
<rect x="909.18" y="536.5" width="6.35" height="7.3" fill="#ff6b10"/>
<rect x="916.34" y="515.9" width="6.35" height="27.9" fill="#9cbfc3"/>
<rect x="923.5" y="529.1" width="6.35" height="14.7" fill="#ff6b10"/>
<rect x="930.65" y="524.8" width="6.35" height="19" fill="#9cbfc3"/>
<rect x="937.81" y="517.2" width="6.35" height="26.6" fill="#ff6b10"/>
<rect x="944.97" y="530.1" width="6.35" height="13.7" fill="#9cbfc3"/>
<rect x="952.12" y="532.2" width="6.35" height="11.6" fill="#9cbfc3"/>
<rect x="959.28" y="534" width="6.35" height="9.8" fill="#ff6b10"/>
</g>
<text x="980.2" y="435.5" font-size="9" fill="#d1d4dc" textLength="11.8" lengthAdjust="spacingAndGlyphs">925</text>
<text x="980.2" y="415.45" font-size="9" fill="#d1d4dc" textLength="11.8" lengthAdjust="spacingAndGlyphs">950</text>
<text x="980.2" y="395.4" font-size="9" fill="#d1d4dc" textLength="11.8" lengthAdjust="spacingAndGlyphs">975</text>
<text x="980.2" y="375.35" font-size="9" fill="#d1d4dc" textLength="15.4" lengthAdjust="spacingAndGlyphs">1000</text>
<text x="980.2" y="355.3" font-size="9" fill="#d1d4dc" textLength="15.4" lengthAdjust="spacingAndGlyphs">1025</text>
<text x="980.2" y="335.25" font-size="9" fill="#d1d4dc" textLength="15.4" lengthAdjust="spacingAndGlyphs">1050</text>
<text x="980.2" y="315.2" font-size="9" fill="#d1d4dc" textLength="15.4" lengthAdjust="spacingAndGlyphs">1075</text>
<text x="980.2" y="295.15" font-size="9" fill="#d1d4dc" textLength="15.4" lengthAdjust="spacingAndGlyphs">1100</text>
<text x="980.2" y="275.1" font-size="9" fill="#d1d4dc" textLength="15.4" lengthAdjust="spacingAndGlyphs">1125</text>
<text x="980.2" y="255.05" font-size="9" fill="#d1d4dc" textLength="15.4" lengthAdjust="spacingAndGlyphs">1150</text>
<text x="980.2" y="235" font-size="9" fill="#d1d4dc" textLength="15.4" lengthAdjust="spacingAndGlyphs">1175</text>
<text x="980.2" y="214.95" font-size="9" fill="#d1d4dc" textLength="15.4" lengthAdjust="spacingAndGlyphs">1200</text>
<text x="980.2" y="194.9" font-size="9" fill="#d1d4dc" textLength="15.4" lengthAdjust="spacingAndGlyphs">1225</text>
<text x="980.2" y="174.85" font-size="9" fill="#d1d4dc" textLength="15.4" lengthAdjust="spacingAndGlyphs">1250</text>
<text x="980.2" y="154.8" font-size="9" fill="#d1d4dc" textLength="15.4" lengthAdjust="spacingAndGlyphs">1275</text>
<text x="980.2" y="134.75" font-size="9" fill="#d1d4dc" textLength="15.4" lengthAdjust="spacingAndGlyphs">1300</text>
<text x="980.2" y="114.7" font-size="9" fill="#d1d4dc" textLength="15.4" lengthAdjust="spacingAndGlyphs">1325</text>
<text x="980.2" y="94.65" font-size="9" fill="#d1d4dc" textLength="15.4" lengthAdjust="spacingAndGlyphs">1350</text>
<text x="980.2" y="74.6" font-size="9" fill="#d1d4dc" textLength="15.4" lengthAdjust="spacingAndGlyphs">1375</text>
<text x="980.2" y="54.55" font-size="9" fill="#d1d4dc" textLength="15.4" lengthAdjust="spacingAndGlyphs">1400</text>
<rect x="975.0" y="90.76" width="24.6" height="10.5" fill="#089808"/>
<text x="980.2" y="98.66" font-size="9" font-weight="700" fill="#fff" textLength="15.4" lengthAdjust="spacingAndGlyphs">1345</text>
<rect x="975.0" y="187" width="24.6" height="10.5" fill="#595a5f"/>
<text x="980.2" y="194.9" font-size="9" font-weight="700" fill="#fff" textLength="15.4" lengthAdjust="spacingAndGlyphs">1225</text>
<rect x="975.0" y="235.12" width="24.6" height="10.5" fill="#ff0000"/>
<text x="980.2" y="243.02" font-size="9" font-weight="700" fill="#fff" textLength="15.4" lengthAdjust="spacingAndGlyphs">1165</text>
<text x="980.2" y="459.2" font-size="9" fill="#d1d4dc" textLength="17.4" lengthAdjust="spacingAndGlyphs">100M</text>
<text x="980.2" y="480.9" font-size="9" fill="#d1d4dc" textLength="13.2" lengthAdjust="spacingAndGlyphs">75M</text>
<text x="980.2" y="502.6" font-size="9" fill="#d1d4dc" textLength="13.2" lengthAdjust="spacingAndGlyphs">50M</text>
<text x="980.2" y="524.3" font-size="9" fill="#d1d4dc" textLength="13.2" lengthAdjust="spacingAndGlyphs">25M</text>
<text class="tm" x="68.26" y="555" textLength="12.4" lengthAdjust="spacingAndGlyphs">Aug</text>
<text class="tm" x="132.67" y="555" textLength="7.0" lengthAdjust="spacingAndGlyphs">14</text>
<text class="tm" x="225.71" y="555" textLength="12.4" lengthAdjust="spacingAndGlyphs">Sep</text>
<text class="tm" x="304.44" y="555" textLength="7.0" lengthAdjust="spacingAndGlyphs">18</text>
<text class="tm" x="368.85" y="555" textLength="12.4" lengthAdjust="spacingAndGlyphs">Oct</text>
<text class="tm" x="440.42" y="555" textLength="7.0" lengthAdjust="spacingAndGlyphs">16</text>
<text class="tm" x="526.3" y="555" textLength="12.4" lengthAdjust="spacingAndGlyphs">Nov</text>
<text class="tm" x="583.56" y="555" textLength="7.0" lengthAdjust="spacingAndGlyphs">13</text>
<text class="tm" x="683.76" y="555" textLength="12.4" lengthAdjust="spacingAndGlyphs">Dec</text>
<text class="tm" x="762.49" y="555" textLength="7.0" lengthAdjust="spacingAndGlyphs">18</text>
<text class="tm" x="819.74" y="555" textLength="17.4" lengthAdjust="spacingAndGlyphs">2024</text>
<text class="tm" x="884.15" y="555" textLength="7.0" lengthAdjust="spacingAndGlyphs">15</text>
<text class="ax" x="970.8" y="555" font-size="8.6">F</text>
<rect x="977.5" y="19.5" width="38" height="17.5" rx="3" fill="#131722" stroke="#2a2e39" stroke-width="1"/>
<text x="983.2" y="30.6" font-size="7.3" font-weight="700" fill="#e0e3eb" textLength="11.4" lengthAdjust="spacingAndGlyphs">IDR</text>
<text x="6.6" y="11.9" font-size="8.8" font-weight="700" fill="#d1d4dc" textLength="216.5" lengthAdjust="spacingAndGlyphs">JoniW published on TradingView.com, Jan 30, 2024 17:12 UTC+7</text>
<text x="11.2" y="28.8" font-size="8.5" fill="#b2b5be" textLength="123.8" lengthAdjust="spacingAndGlyphs">BFI FINANCE INDONESIA TBK, 1D, IDX</text>
<text x="139.5" y="28.8" font-size="8.5" fill="#b2b5be" textLength="21" lengthAdjust="spacingAndGlyphs">O<tspan fill="#fff" font-weight="700">1235</tspan></text>
<text x="165" y="28.8" font-size="8.5" fill="#b2b5be" textLength="20.8" lengthAdjust="spacingAndGlyphs">H<tspan fill="#fff" font-weight="700">1235</tspan></text>
<text x="190.5" y="28.8" font-size="8.5" fill="#b2b5be" textLength="19.5" lengthAdjust="spacingAndGlyphs">L<tspan fill="#fff" font-weight="700">1210</tspan></text>
<text x="214.5" y="28.8" font-size="8.5" fill="#b2b5be" textLength="20" lengthAdjust="spacingAndGlyphs">C<tspan fill="#fff" font-weight="700">1220</tspan></text>
<g fill="#d1d4dc"><path d="M6.3 568.7h4.7v5.8h-2.4v-3.5h-2.3z"/><circle cx="12.5" cy="569.9" r="1.2"/><path d="M15.6 568.7h2.8l-2.7 5.8h-2.8z"/></g>
<text x="21" y="574.5" font-size="7.6" font-weight="700" fill="#d1d4dc" textLength="43.8" lengthAdjust="spacingAndGlyphs">TradingView</text>
</svg></body></html>
